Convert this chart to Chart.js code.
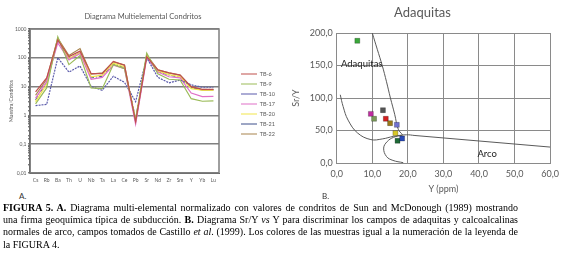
<!DOCTYPE html>
<html>
<head>
<meta charset="utf-8">
<script src="https://cdn.jsdelivr.net/npm/chart.js@4.4.0/dist/chart.umd.min.js"></script>
<style>
    body { margin: 0; width: 570px; height: 259px; overflow: hidden; background: #fff; font-family: Lato, sans-serif; }
    #cajaA { position: absolute; left: 8px; top: 3px; }
    #cajaB { position: absolute; left: 290px; top: 0; }
    .letra { position: absolute; font-size: 8px; color: #333; }
    #pie { position: absolute; left: 3px; top: 202px; font-family: "Liberation Serif", serif; font-size: 11px; line-height: 12.2px; color: #000; }
    #pie div { white-space: nowrap; }
</style>
</head>
<body>
<canvas id="cajaA" width="270" height="188"></canvas>
<canvas id="cajaB" width="275" height="196"></canvas>
<div class="letra" style="left:19px;top:191px">A.</div>
<div class="letra" style="left:322px;top:191px">B.</div>
<div id="pie">
    <div class="j"><b>FIGURA 5. A.</b> Diagrama multi-elemental normalizado con valores de condritos de Sun and McDonough (1989) mostrando</div>
    <div class="j">una firma geoquímica típica de subducción. <b>B.</b> Diagrama Sr/Y <i>vs</i> Y para discriminar los campos de adaquitas y calcoalcalinas</div>
    <div class="j">normales de arco, campos tomados de Castillo <i>et al</i>. (1999). Los colores de las muestras igual a la numeración de la leyenda de</div>
    <div>la FIGURA 4.</div>
</div>
<script>
// Diagrama A: multielemental normalizado a condritos
const elementos = ['Cs', 'Rb', 'Ba', 'Th', 'U', 'Nb', 'Ta', 'La', 'Ce', 'Pb', 'Sr', 'Nd', 'Zr', 'Sm', 'Y', 'Yb', 'Lu'];
const muestras = ['TB-6', 'TB-9', 'TB-10', 'TB-17', 'TB-20', 'TB-21', 'TB-22'];
const tb6  = [6.5, 20, 420, 110, 170, 28, 28, 75, 55, 0.6, 110, 38, 30, 25, 10, 8, 8];
const tb9  = [2.5, 9, 540, 58, 120, 9, 8.5, 58, 42, 0.7, 145, 28, 18, 17, 3.8, 3.1, 3.2];
const tb10 = [2.2, 2.4, 100, 32, 52, 10, 7.5, 23, 14, 3, 100, 21, 13.5, 17, 11.5, 9.5, 9.5];
const tb17 = [4, 15, 330, 85, 140, 18, 21, 55, 42, 0.5, 100, 32, 22, 20, 6, 4.5, 4.6];
const tb20 = [3, 12, 450, 95, 150, 22, 25, 65, 48, 0.7, 120, 35, 26, 22, 8.5, 7.5, 7.5];
const tb21 = [3.5, 14, 400, 90, 160, 20, 23, 62, 45, 0.8, 115, 33, 25, 21, 9, 8, 8];
const tb22 = [5, 18, 480, 120, 210, 27, 30, 72, 56, 0.6, 125, 38, 30, 25, 9.5, 7.5, 7.5];
const decadas = [0.01, 0.1, 1, 10, 100, 1000];

// Diagrama B: Sr/Y vs Y
const puntosY   = [5.8, 9.6, 10.5, 13.0, 13.8, 15.0, 16.9, 16.5, 17.1, 18.4];
const puntosSrY = [188, 75.6, 68, 81.3, 68, 61.3, 58.7, 46, 34.2, 37.7];
const coloresPuntos = ['#3aa83a', '#c02ca0', '#7a9a58', '#555555', '#d42020', '#9a7a1a', '#7070d0', '#d8c828', '#1e6a36', '#2a4ab8'];
const adakitaY   = [10, 11.4, 12.8, 14.0, 15.1, 16.3, 17.3, 18.5];
const adakitaSrY = [200, 175, 150, 125, 100, 75, 52, 43.5];
const arcoY   = [1.0, 1.8, 3.2, 5.9, 9.6, 12.8, 16.0, 19.6, 22.0];
const arcoSrY = [105, 87, 66, 46, 36, 37, 41, 43.4, 42.3];
const arcoRectoY   = [22.0, 60];
const arcoRectoSrY = [42.3, 24.5];
const inferiorY   = [18.5, 16.0, 14.2, 13.2, 14.0, 15.8, 18.7];
const inferiorSrY = [43, 39.5, 33, 23, 10, 4, 0.5];
const campos = ['Adaquitas', 'Arco'];
const camposY = [1.2, 42.3];
const camposSrY = [153, 14.3];

const gris = '#595959';

function esDecada(v) {
    const l = Math.log10(v);
    return Math.abs(l - Math.round(l)) < 1e-6;
}

function pares(xs, ys) {
    return xs.map(function (x, i) { return {x: x, y: ys[i]}; });
}

const ajusteLeyenda = {
    id: 'ajusteLeyenda',
    beforeLayout(chart) {
        const leg = chart.legend;
        if (leg && !leg._ajustada) {
            const fitOrig = leg.fit.bind(leg);
            leg.fit = function () { fitOrig(); this.width = 59; };
            leg._ajustada = true;
        }
    },
    afterLayout(chart) {
        chart.legend.left += 17.5;
        chart.legend.top += 7;
        chart.legend.bottom += 7;
    }
};

const marcoA = {
    id: 'marcoA',
    beforeDatasetsDraw(chart) {
        const a = chart.chartArea;
        const ctx = chart.ctx;
        ctx.save();
        ctx.strokeStyle = '#7f7f7f';
        ctx.lineWidth = 1.5;
        ctx.strokeRect(a.left, a.top, a.right - a.left, a.bottom - a.top);
        ctx.restore();
    }
};

const series = [tb6, tb9, tb10, tb17, tb20, tb21, tb22];
const coloresA = ['#c0504d', '#9bbb59', '#5b5bab', '#e070c8', '#f2e64a', '#3d4f8a', '#a8844e'];
const trazos = [[], [], [2, 1], [], [], [4, 2, 1, 2], []];

new Chart(document.getElementById('cajaA'), {
    type: 'line',
    data: {
        labels: elementos,
        datasets: series.map(function (s, i) {
            return {
                label: muestras[i],
                data: s,
                borderColor: coloresA[i],
                backgroundColor: coloresA[i],
                borderWidth: i === 5 ? 1 : 1.2,
                borderDash: trazos[i],
                pointRadius: 0,
                tension: 0
            };
        })
    },
    options: {
        responsive: false,
        animation: false,
        layout: {padding: 0},
        plugins: {
            title: {
                display: true,
                text: 'Diagrama Multielemental Condritos',
                color: gris,
                font: {family: 'Lato', size: 7.5, weight: 'normal'},
                padding: {top: 9.5, bottom: 7.5}
            },
            legend: {
                position: 'right',
                labels: {
                    usePointStyle: true,
                    pointStyle: 'line',
                    pointStyleWidth: 16,
                    padding: 4.5,
                    color: gris,
                    font: {family: 'Lato', size: 5.5}
                }
            },
            tooltip: {enabled: false}
        },
        scales: {
            x: {
                offset: true,
                grid: {display: false, drawTicks: false},
                border: {color: '#444'},
                ticks: {color: gris, font: {family: 'Lato', size: 5}, padding: 4, maxRotation: 0, autoSkip: false},
                afterFit: function (s) { s.height = 18; }
            },
            y: {
                type: 'logarithmic',
                min: 0.01,
                max: 1000,
                afterFit: function (s) { s.width = 22; },
                title: {display: true, text: 'Muestra/Condritos', color: gris, font: {family: 'Lato', size: 5}, padding: 0},
                border: {color: '#333', width: 1.5},
                grid: {
                    color: function (c) { return esDecada(c.tick.value) ? '#808080' : 'rgba(0,0,0,0)'; },
                    lineWidth: 1.6,
                    drawTicks: true,
                    tickLength: 2,
                    tickColor: '#444',
                    tickWidth: 1
                },
                ticks: {
                    color: gris,
                    font: {family: 'Lato', size: 5},
                    padding: 1.5,
                    autoSkip: false,
                    callback: function (v) {
                        return esDecada(v) ? String(decadas[decadas.findIndex(function (d) { return Math.abs(d - v) < d * 1e-6; })]).replace('.', ',') : '';
                    }
                }
            }
        }
    },
    plugins: [ajusteLeyenda, marcoA]
});

const rotulosB = {
    id: 'rotulosB',
    afterDatasetsDraw(chart) {
        const ctx = chart.ctx;
        const x = chart.scales.x;
        const y = chart.scales.y;
        ctx.save();
        ctx.font = '9.5px Lato';
        ctx.fillStyle = '#222';
        ctx.textBaseline = 'middle';
        campos.forEach(function (t, i) {
            ctx.textAlign = i === 0 ? 'left' : 'center';
            ctx.fillText(t, x.getPixelForValue(camposY[i]), y.getPixelForValue(camposSrY[i]));
        });
        ctx.restore();
    }
};

const lineaCampo = {
    showLine: true,
    borderColor: '#5a5a5a',
    borderWidth: 1,
    pointRadius: 0,
    tension: 0.4
};

new Chart(document.getElementById('cajaB'), {
    type: 'scatter',
    data: {
        datasets: [
            {
                label: 'muestras',
                data: pares(puntosY, puntosSrY),
                pointStyle: 'rect',
                pointRadius: 3.5,
                backgroundColor: coloresPuntos,
                borderColor: 'rgba(0,0,0,0.35)',
                borderWidth: 0.7
            },
            Object.assign({label: 'adakita', data: pares(adakitaY, adakitaSrY)}, lineaCampo),
            Object.assign({label: 'arco', data: pares(arcoY, arcoSrY)}, lineaCampo),
            Object.assign({label: 'arco2', data: pares(arcoRectoY, arcoRectoSrY)}, lineaCampo, {tension: 0}),
            Object.assign({label: 'inferior', data: pares(inferiorY, inferiorSrY)}, lineaCampo)
        ]
    },
    options: {
        responsive: false,
        animation: false,
        layout: {padding: {right: 10, left: 0, top: 0, bottom: 0}},
        plugins: {
            legend: {display: false},
            tooltip: {enabled: false},
            title: {
                display: true,
                text: 'Adaquitas',
                color: gris,
                font: {family: 'Lato', size: 13, weight: 'normal'},
                padding: {top: 5.2, bottom: 12.2}
            }
        },
        scales: {
            x: {
                type: 'linear',
                min: 0,
                max: 60,
                afterFit: function (s) { s.height = 33; },
                grid: {color: '#8a8a8a', drawTicks: false},
                border: {color: '#8a8a8a'},
                title: {display: true, text: 'Y (ppm)', color: gris, font: {family: 'Lato', size: 9}, padding: {top: 0, bottom: 1.5}},
                ticks: {
                    stepSize: 10, color: gris, font: {family: 'Lato', size: 9}, padding: 6,
                    callback: function (v) { return v.toFixed(1).replace('.', ','); }
                }
            },
            y: {
                min: 0,
                max: 200,
                afterFit: function (s) { s.width = 46.7; },
                grid: {color: '#8a8a8a', drawTicks: false},
                border: {color: '#8a8a8a'},
                title: {display: true, text: 'Sr/Y', color: gris, font: {family: 'Lato', size: 9}, padding: {top: 1, bottom: 0}},
                ticks: {
                    stepSize: 50, color: gris, font: {family: 'Lato', size: 9}, padding: 4,
                    callback: function (v) { return v.toFixed(1).replace('.', ','); }
                }
            }
        }
    },
    plugins: [rotulosB]
});

// justificar las lineas del pie de figura: primero ajustar el tamaño, luego el espacio entre palabras
const pie = document.getElementById('pie');
const lineas = Array.from(document.querySelectorAll('#pie .j'));
lineas.forEach(function (el) {
    const span = document.createElement('span');
    span.innerHTML = el.innerHTML;
    el.innerHTML = '';
    el.appendChild(span);
});
const ancho = 515;
const mayor = Math.max.apply(null, lineas.map(function (el) { return el.firstChild.getBoundingClientRect().width; }));
pie.style.fontSize = (11 * (ancho - 6) / mayor) + 'px';
lineas.forEach(function (el) {
    const real = el.firstChild.getBoundingClientRect().width;
    const espacios = (el.textContent.match(/ /g) || []).length;
    el.style.wordSpacing = ((ancho - real) / espacios) + 'px';
});
</script>
</body>
</html>
